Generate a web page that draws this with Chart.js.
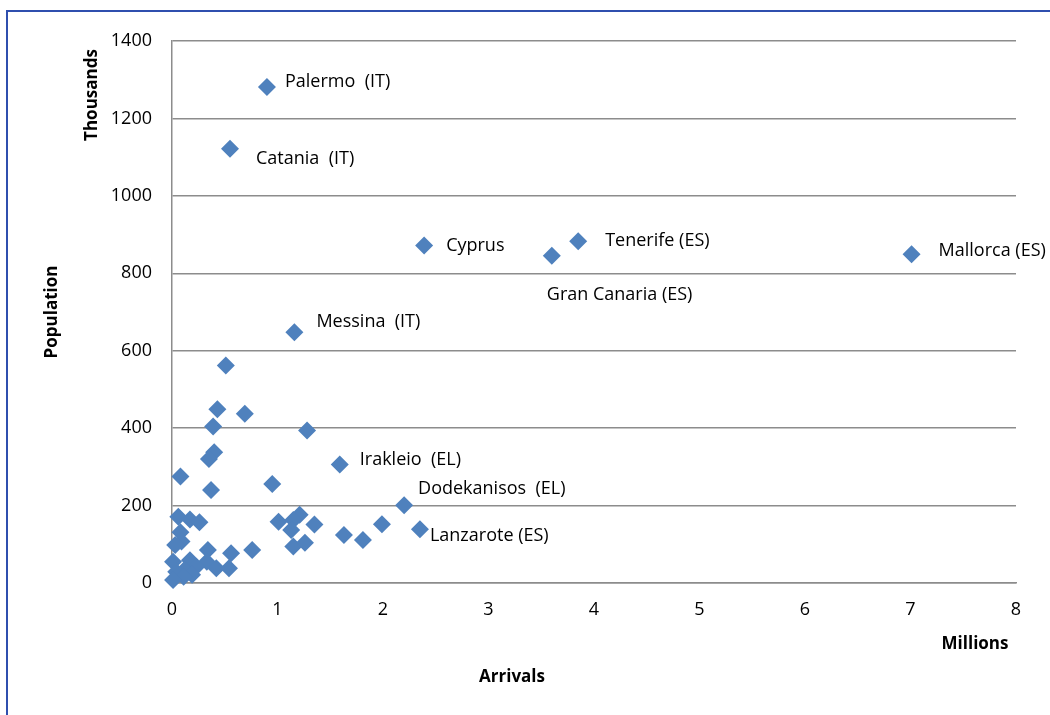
<!DOCTYPE html>
<html>
<head>
<meta charset="utf-8">
<script src="https://cdn.jsdelivr.net/npm/chart.js@4/dist/chart.umd.min.js"></script>
<style>
  html, body { margin: 0; padding: 0; background: #fff; overflow: hidden; }
  #wrap { position: relative; width: 1050px; height: 715px; }
  #frame { position: absolute; left: 6px; top: 10px; width: 1100px; height: 800px;
           border: 2px solid #2f4fae; box-sizing: border-box; pointer-events: none; }
</style>
</head>
<body>
<div id="wrap">
  <canvas id="chart" width="1050" height="715"></canvas>
  <div id="frame"></div>
</div>
<script>
// arrivals in millions, population in thousands
var regionNames = ['Palermo  (IT)', 'Catania  (IT)', 'Cyprus', 'Gran Canaria (ES)', 'Tenerife (ES)',
                   'Mallorca (ES)', 'Messina  (IT)', 'Irakleio  (EL)', 'Dodekanisos  (EL)', 'Lanzarote (ES)'];
var namedArrivals = [0.90, 0.55, 2.39, 3.60, 3.85, 7.01, 1.16, 1.59, 2.20, 2.35];
var namedPopulation = [1281, 1122, 872, 845, 883, 849, 648, 306, 201, 139];

var otherArrivals = [0.51, 0.43, 0.69, 0.39, 1.28, 0.40, 0.35, 0.08, 0.37, 0.95,
                     0.06, 0.17, 0.26, 0.08, 0.09, 0.03, 1.01, 1.21, 1.15, 1.13,
                     1.35, 1.99, 1.63, 1.81, 1.15, 1.26, 0.76, 0.34, 0.56, 0.01,
                     0.17, 0.33, 0.42, 0.54, 0.23, 0.12, 0.04, 0.19, 0.11, 0.01];
var otherPopulation = [562, 449, 437, 404, 394, 338, 320, 275, 240, 256,
                       171, 164, 157, 131, 107, 98, 158, 176, 163, 137,
                       151, 152, 124, 111, 94, 104, 85, 85, 77, 55,
                       59, 55, 38, 38, 42, 34, 29, 21, 16, 8];

var xTicks = [0, 1, 2, 3, 4, 5, 6, 7, 8];
var yTicks = [0, 200, 400, 600, 800, 1000, 1200, 1400];

// where each label sits relative to its marker (pixels)
var labelOffsets = {
  'Palermo  (IT)': [18, -5], 'Catania  (IT)': [26, 10], 'Cyprus': [22, 0],
  'Gran Canaria (ES)': [-5, 39], 'Tenerife (ES)': [27, 0], 'Mallorca (ES)': [27, -3],
  'Messina  (IT)': [22, -10], 'Irakleio  (EL)': [20, -5], 'Dodekanisos  (EL)': [14, -16],
  'Lanzarote (ES)': [10, 7]
};

var FONT = "'Open Sans', 'Liberation Sans', sans-serif";
var markerColor = '#4f81bd';
var gridColor = '#8c8c8c';

var points = [];
for (var i = 0; i < otherArrivals.length; i++) {
  points.push({ x: otherArrivals[i], y: otherPopulation[i], name: '' });
}
for (var j = 0; j < namedArrivals.length; j++) {
  points.push({ x: namedArrivals[j], y: namedPopulation[j], name: regionNames[j] });
}

var extraText = {
  id: 'extraText',
  afterDatasetsDraw: function (chart) {
    var c = chart.ctx;
    var meta = chart.getDatasetMeta(0);
    c.save();
    c.fillStyle = '#000';
    c.font = '18px ' + FONT;
    c.textAlign = 'left';
    c.textBaseline = 'middle';
    meta.data.forEach(function (el, k) {
      var name = points[k].name;
      if (!name) return;
      var off = labelOffsets[name];
      c.fillText(name, el.x + off[0], el.y + off[1]);
    });
    var area = chart.chartArea;
    c.font = 'bold 17px ' + FONT;
    c.textAlign = 'center';
    c.fillText('Millions', area.right - 41, area.bottom + 61);
    c.fillText('Arrivals', 512, area.bottom + 94);
    c.translate(92, area.top + 54);
    c.rotate(-Math.PI / 2);
    c.fillText('Thousands', 0, 0);
    c.restore();
  }
};

var ctx = document.getElementById('chart').getContext('2d');
var myChart = new Chart(ctx, {
  type: 'scatter',
  data: {
    datasets: [{
      data: points,
      pointStyle: 'rectRot',
      pointRadius: 9,
      pointHoverRadius: 9,
      backgroundColor: markerColor,
      borderColor: markerColor,
      borderWidth: 0,
      clip: false
    }]
  },
  options: {
    responsive: false,
    animation: false,
    events: [],
    layout: { padding: { top: 41, right: 34, left: 0, bottom: 0 } },
    plugins: {
      legend: { display: false },
      tooltip: { enabled: false }
    },
    scales: {
      x: {
        type: 'linear',
        min: 0,
        max: 8,
        afterBuildTicks: function (s) { s.ticks = xTicks.map(function (v) { return { value: v }; }); },
        afterFit: function (s) { s.height = 132; },
        ticks: { color: '#000', padding: 16, font: { family: FONT, size: 18 },
                 callback: function (v) { return String(v); } },
        grid: { display: false, drawTicks: false },
        border: { display: true, color: gridColor, width: 1.5 },
        title: { display: false }
      },
      y: {
        type: 'linear',
        min: 0,
        max: 1400,
        afterBuildTicks: function (s) { s.ticks = yTicks.map(function (v) { return { value: v }; }); },
        afterFit: function (s) { s.width = 172; },
        ticks: { color: '#000', padding: 20, font: { family: FONT, size: 18 },
                 callback: function (v) { return String(v); } },
        grid: { color: gridColor, lineWidth: 1.5, drawTicks: false },
        border: { display: true, color: gridColor, width: 1.5 },
        title: {
          display: true,
          text: 'Population',
          color: '#000',
          font: { family: FONT, size: 17, weight: 'bold' },
          padding: { top: 42, bottom: 42 }
        }
      }
    }
  },
  plugins: [extraText]
});
</script>
</body>
</html>
